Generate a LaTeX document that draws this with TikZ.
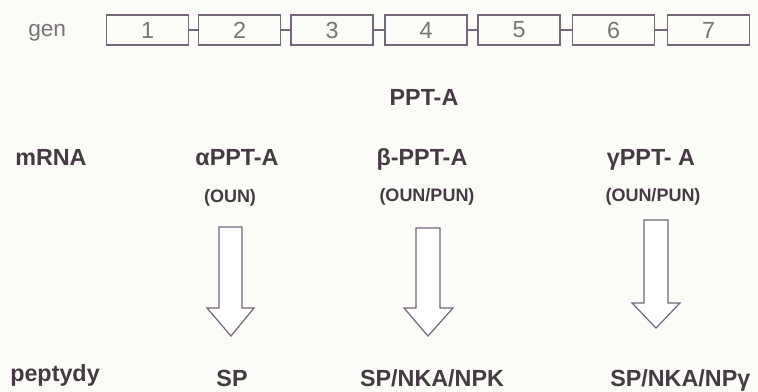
\documentclass[tikz,border=0pt]{standalone}
\usepackage{fontspec}
\setmainfont{Liberation Sans}
\definecolor{txt}{HTML}{463A44}
\definecolor{gtxt}{HTML}{7A7478}
\definecolor{lin}{HTML}{76667A}
\definecolor{bg}{HTML}{FBFCF8}
\begin{document}
\begin{tikzpicture}[x=0.75pt,y=-0.75pt,
  exon/.style={draw=lin,line width=0.9pt,minimum width=61.5pt,minimum height=22.5pt,inner sep=0pt,
    font=\fontsize{17.5pt}{19pt}\selectfont,text=gtxt},
  lbl/.style={inner sep=0pt,anchor=base,text=txt,font=\bfseries\fontsize{17.5pt}{20pt}\selectfont},
  sublbl/.style={inner sep=0pt,anchor=base,text=txt,font=\bfseries\fontsize{13.5pt}{16pt}\selectfont},
  harrow/.style={draw=lin,line width=0.9pt,fill=white,line join=miter}]
\fill[bg] (0,0) rectangle (758,392);
\useasboundingbox (0,0) rectangle (758,392);
% gene
\node[inner sep=0pt,anchor=base west,text=gtxt,font=\fontsize{17pt}{19pt}\selectfont] (gen) at (28,37) {gen};
\foreach \i/\x in {1/147.5,2/239.5,3/332,4/426,5/519,6/613.5,7/708.5}{
  \node[exon] (e\i) at (\x,30) {\raisebox{-1.5pt}{\i}};
}
\foreach \a/\b in {1/2,2/3,3/4,4/5,5/6,6/7}{
  \draw[lin,line width=0.9pt] (e\a.east) -- (e\b.west);
}
\node[lbl] (ppt) at (424,106) {PPT-A};
% mRNA row
\node[lbl,anchor=base west] (mrna) at (15,166) {mRNA};
\node[lbl] (ma) at (237,166) {αPPT-A};
\node[lbl] (mb) at (422,166) {β-PPT-A};
\node[lbl] (mg) at (651,166) {γPPT- A};
\node[sublbl] (oa) at (230,203) {(OUN)};
\node[sublbl] (ob) at (427,202) {(OUN/PUN)};
\node[sublbl] (og) at (653,202) {(OUN/PUN)};
% arrows
\draw[harrow] (219,227) -- (242,227) -- (242,308) -- (254,308) -- (231,336) -- (207,308) -- (219,308) -- cycle;
\draw[harrow] (416,228) -- (440,228) -- (440,308) -- (453,308) -- (428,336) -- (404,308) -- (416,308) -- cycle;
\draw[harrow] (644,220) -- (668,220) -- (668,303) -- (680,303) -- (656,328) -- (632,303) -- (644,303) -- cycle;
% peptides
\node[lbl,anchor=base west] (pep) at (10,382) {peptydy};
\node[lbl] (pa) at (232,387) {SP};
\node[lbl] (pb) at (432,387) {SP/NKA/NPK};
\node[lbl,anchor=base west] (pg) at (610,387) {SP/NKA/NPγ};
\end{tikzpicture}
\end{document}
